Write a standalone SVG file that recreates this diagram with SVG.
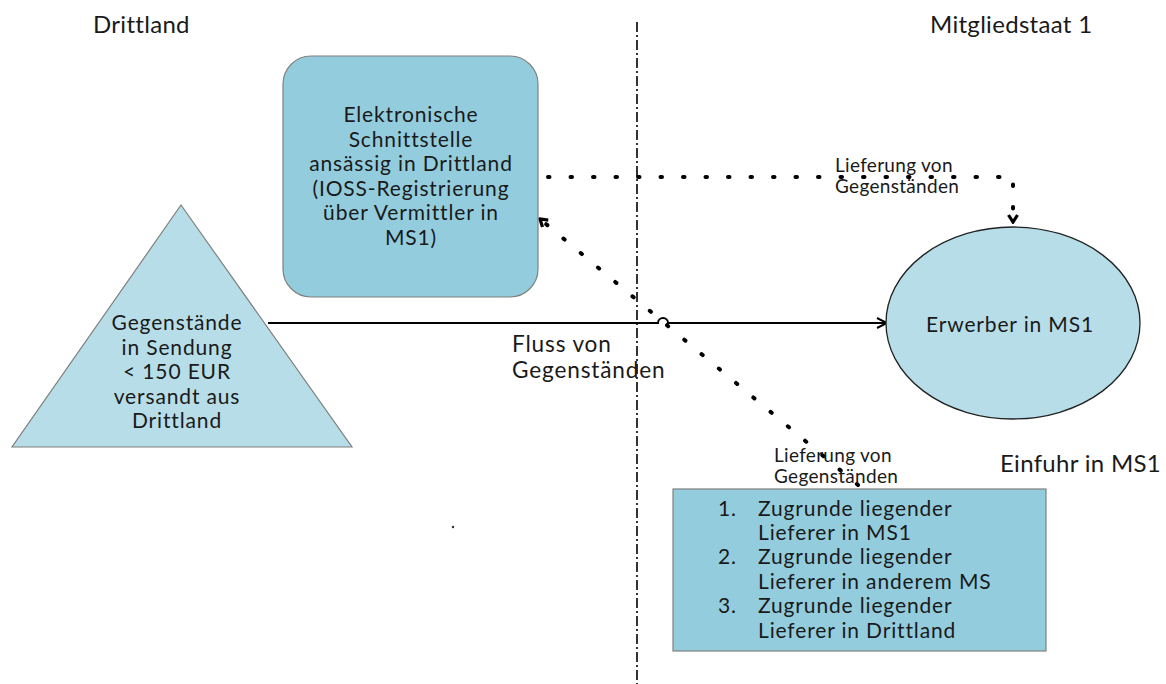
<svg xmlns="http://www.w3.org/2000/svg" width="1166" height="684" viewBox="0 0 1166 684">
  <style>
    text { font-family: Lato, "Open Sans", "Liberation Sans", sans-serif; fill: #1a1a1a; }
    .big { font-size: 24px; letter-spacing: 0.3px; }
    .flow { font-size: 22.6px; letter-spacing: 0.85px; }
    .small { font-size: 19px; letter-spacing: 0.3px; }
    .mid { font-size: 21px; letter-spacing: 0.85px; }
    .c { text-anchor: middle; }
    .dotted { fill: none; stroke: #000; stroke-width: 4; stroke-linecap: round; stroke-dasharray: 1.5 21; }
  </style>
  <defs>
    <marker id="open-arrow" viewBox="0 0 12 12" refX="11" refY="6" markerWidth="12" markerHeight="12" markerUnits="userSpaceOnUse" orient="auto">
      <path d="M1,1 L11,6 L1,11" fill="none" stroke="#000" stroke-width="2"/>
    </marker>
    <marker id="dot-arrow" viewBox="0 0 12 12" refX="10" refY="6" markerWidth="12" markerHeight="12" markerUnits="userSpaceOnUse" orient="auto">
      <path d="M3,1.5 L10,6 L3,10.5" fill="none" stroke="#000" stroke-width="3.2"/>
    </marker>
  </defs>

  <rect width="1166" height="684" fill="#fff"/>

  <!-- border between third country and member state -->
  <line x1="637" y1="22" x2="637" y2="684" stroke="#000" stroke-width="1.6" stroke-dasharray="10 3 2 3"/>

  <!-- region headings -->
  <text class="big" x="93" y="33">Drittland</text>
  <text class="big" x="930" y="33">Mitgliedstaat 1</text>
  <text class="big" x="1000" y="472">Einfuhr in MS1</text>

  <!-- connectors -->
  <g id="connectors">
    <path d="M268,323 H658 A5,5 0 0 1 668,323 H887" fill="none" stroke="#000" stroke-width="2" marker-end="url(#open-arrow)"/>
    <path class="dotted" d="M548,177 H1013 V222" marker-end="url(#dot-arrow)"/>
    <path class="dotted" d="M858,485 L540,219" marker-end="url(#dot-arrow)"/>
    <text class="small" x="835" y="172">Lieferung von</text>
    <text class="small" x="835" y="193">Gegenständen</text>
    <text class="small" x="774" y="462">Lieferung von</text>
    <text class="small" x="774" y="483">Gegenständen</text>
    <text class="flow" x="512" y="352">Fluss von</text>
    <text class="flow" x="512" y="378">Gegenständen</text>
  </g>

  <!-- electronic interface -->
  <g id="interface">
    <rect x="283" y="56" width="255" height="241" rx="28" fill="#93CDDD" stroke="#808080" stroke-width="1.2"/>
    <text class="mid c" x="411" y="122">Elektronische</text>
    <text class="mid c" x="411" y="147">Schnittstelle</text>
    <text class="mid c" x="411" y="171">ansässig in Drittland</text>
    <text class="mid c" x="411" y="196">(IOSS-Registrierung</text>
    <text class="mid c" x="411" y="220">über Vermittler in</text>
    <text class="mid c" x="411" y="245">MS1)</text>
  </g>

  <!-- goods shipped from third country -->
  <g id="goods">
    <polygon points="181,205 352,447 12,447" fill="#B7DEE8" stroke="#7F7F7F" stroke-width="1.2"/>
    <text class="mid c" x="177" y="330">Gegenstände</text>
    <text class="mid c" x="177" y="355">in Sendung</text>
    <text class="mid c" x="177" y="379">&lt; 150 EUR</text>
    <text class="mid c" x="177" y="404">versandt aus</text>
    <text class="mid c" x="177" y="428">Drittland</text>
  </g>

  <!-- customer -->
  <g id="customer">
    <ellipse cx="1013" cy="323" rx="127" ry="96" fill="#B7DEE8" stroke="#222" stroke-width="1.3"/>
    <text class="mid c" x="1010" y="332">Erwerber in MS1</text>
  </g>

  <!-- underlying suppliers -->
  <g id="suppliers">
    <rect x="673" y="489" width="373" height="162" fill="#93CDDD" stroke="#808080" stroke-width="1.2"/>
    <text class="mid" x="718" y="516">1.</text>
    <text class="mid" x="758" y="516">Zugrunde liegender</text>
    <text class="mid" x="758" y="540">Lieferer in MS1</text>
    <text class="mid" x="718" y="564">2.</text>
    <text class="mid" x="758" y="564">Zugrunde liegender</text>
    <text class="mid" x="758" y="589">Lieferer in anderem MS</text>
    <text class="mid" x="718" y="613">3.</text>
    <text class="mid" x="758" y="613">Zugrunde liegender</text>
    <text class="mid" x="758" y="638">Lieferer in Drittland</text>
  </g>

  <circle cx="453" cy="527" r="1.2" fill="#333"/>
</svg>
